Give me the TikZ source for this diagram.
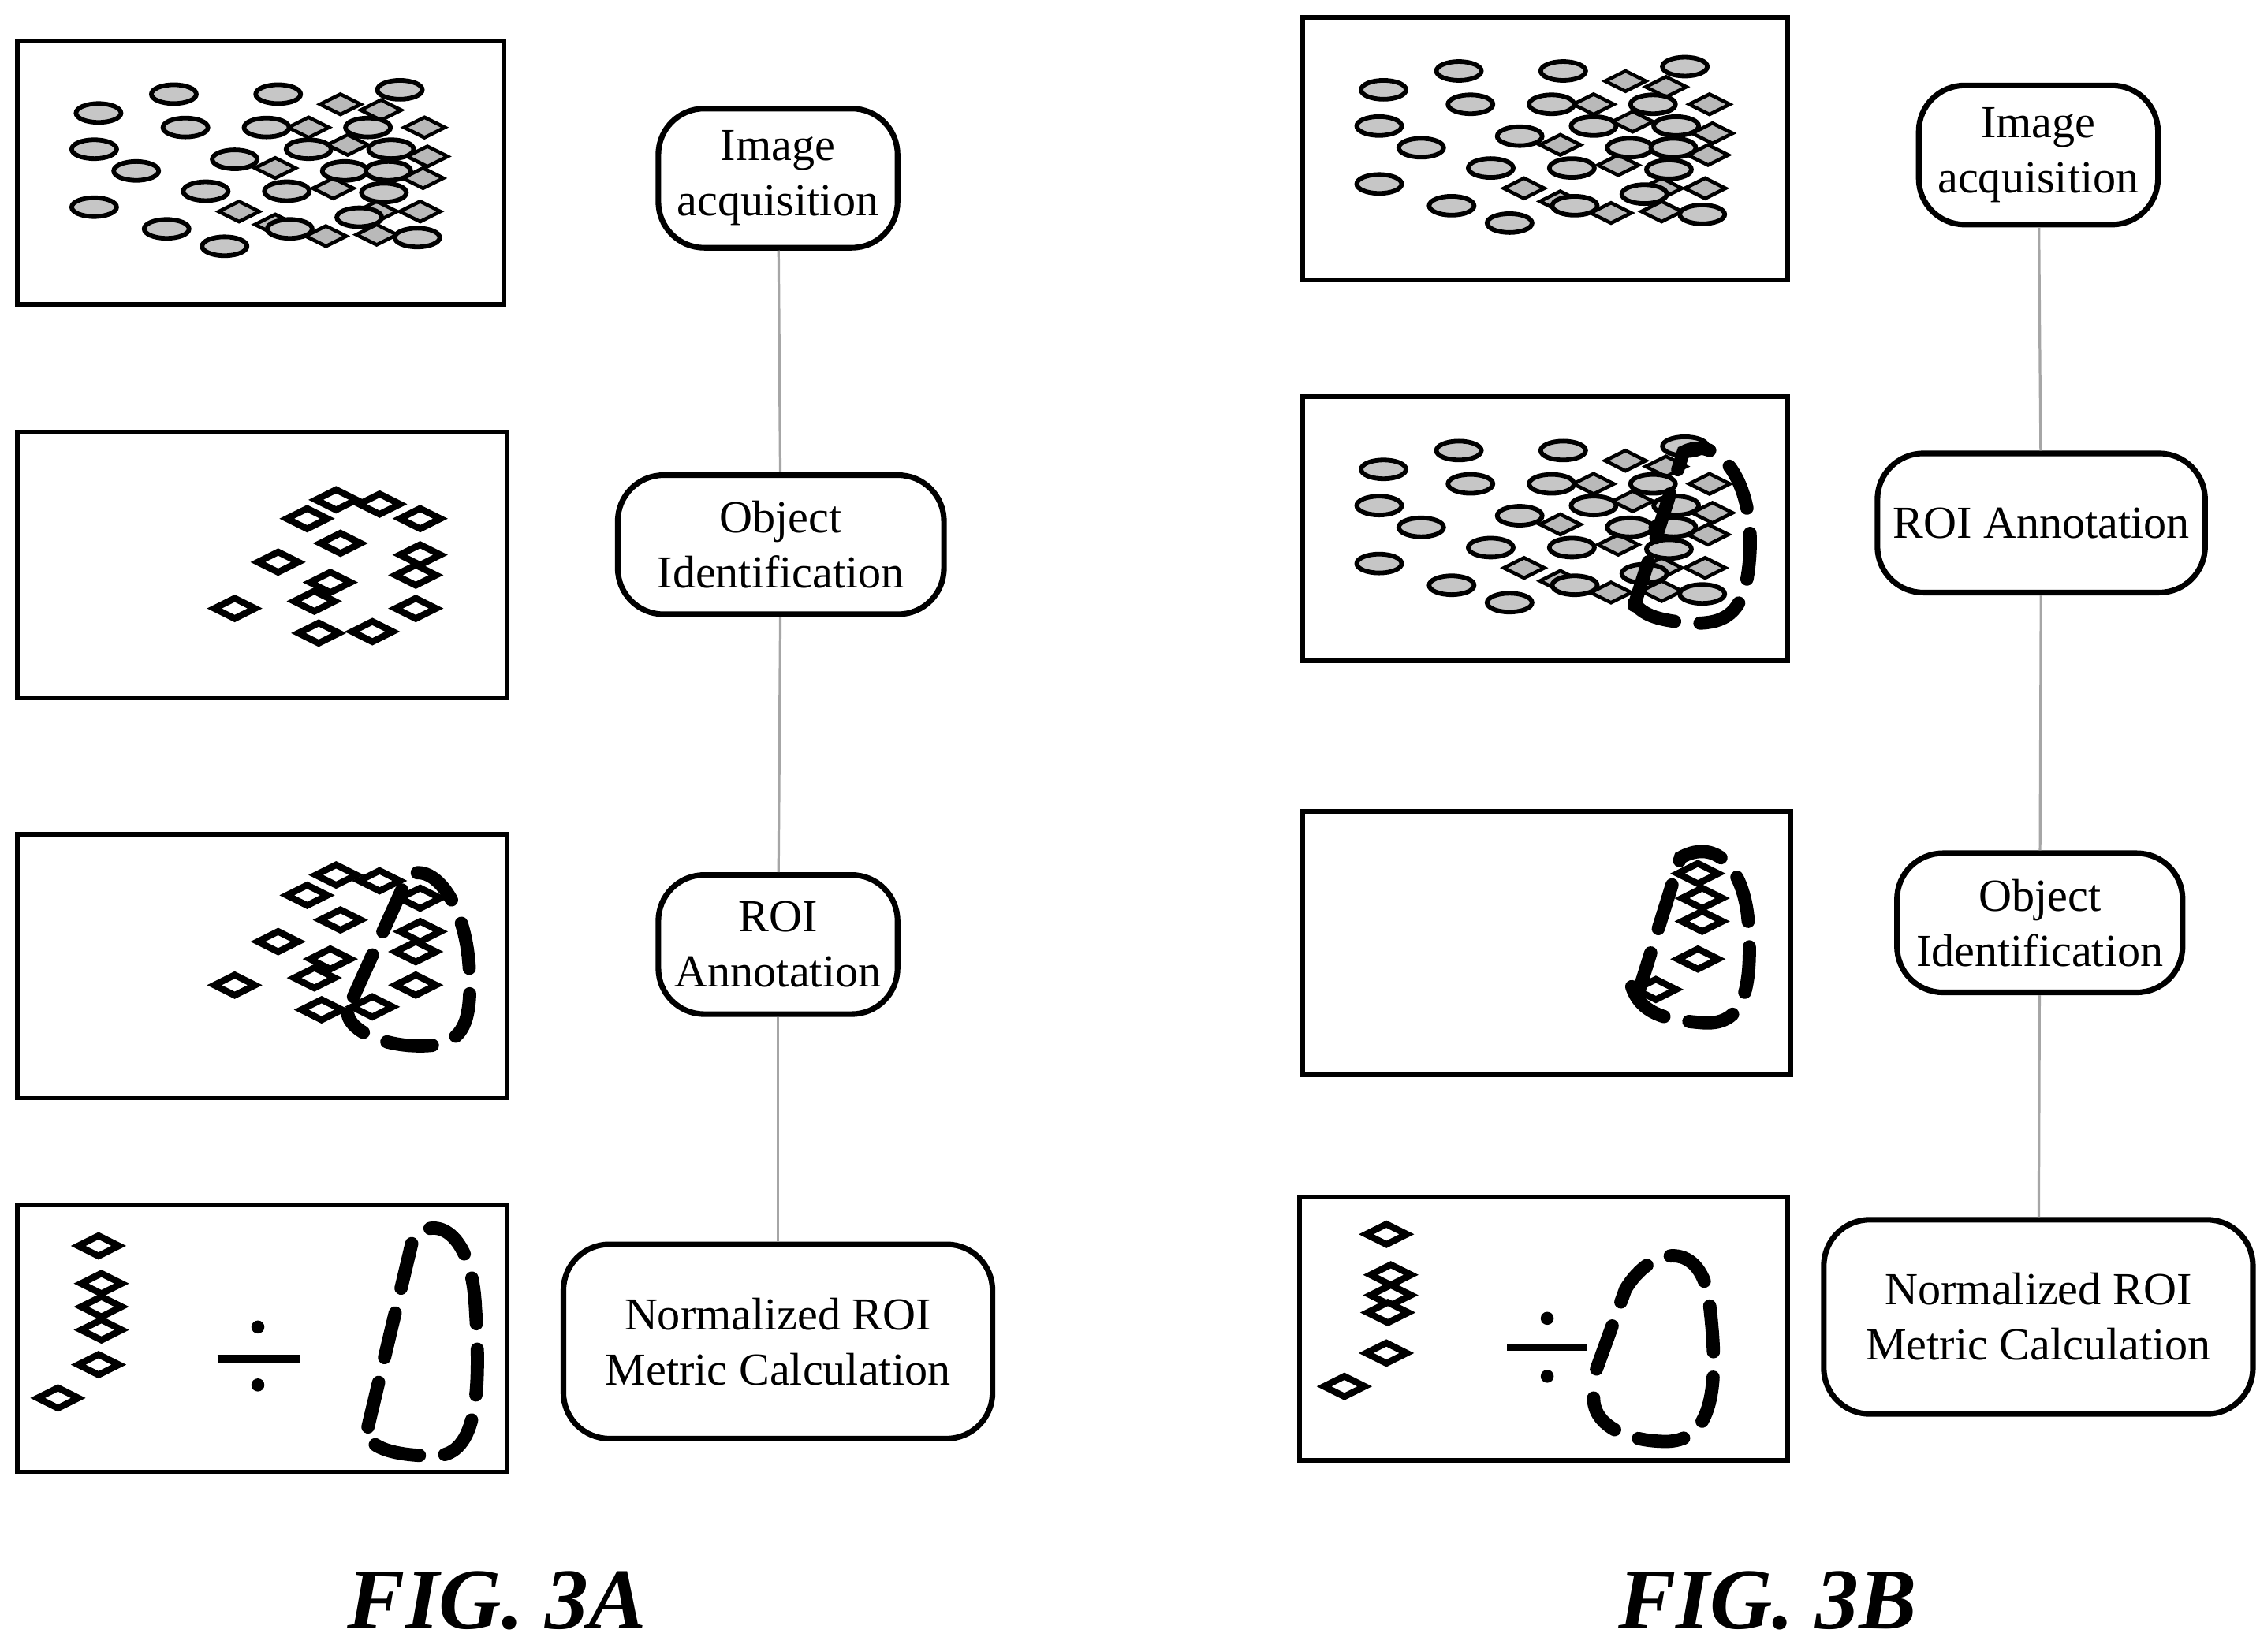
\documentclass[tikz,border=0pt]{standalone}
\usepackage{fontspec}
\setmainfont{Liberation Serif}
\begin{document}
\begin{tikzpicture}[x=0.01cm,y=-0.01cm,
 panel/.style={draw,line width=0.9pt},
 ell/.style={draw,fill=gray!45,line width=0.9pt},
 dia/.style={draw,fill=gray!55,line width=0.7pt},
 odia/.style={draw,fill=white,line width=1.3pt},
 loop/.style={draw,line width=2.6pt,dash pattern=on 9pt off 5pt,line cap=round},
 stepbox/.style={draw,rounded corners=9pt,line width=1.1pt,align=center,font=\fontsize{9}{10.8}\selectfont,inner sep=2pt},
 conn/.style={draw,gray!70,line width=0.5pt},
 figl/.style={font=\fontsize{17}{19}\bfseries\itshape\selectfont}]
\useasboundingbox (0,0) rectangle (1560,1140);
\newcommand\E[2]{\draw[ell] (#1,#2) ellipse (0.155cm and 0.065cm);}
\newcommand\D[3][dia]{\draw[#1,shift={(#2,#3)}] (-14,0)--(0,-7)--(14,0)--(0,7)--cycle;}
\newcommand\cluster{%
 \D{235}{72}\D{263}{76}\D{213}{88}\D{293}{88}\D{240}{100}\D{190}{116}\D{295}{108}\D{230}{130}\D{292}{123}\D{165}{146}\D{260}{146}\D{290}{146}\D{225}{163}\D{260}{162}\D{190}{155}
 \E{120}{65}\E{192}{65}\E{276}{62}\E{68}{78}\E{128}{88}\E{184}{88}\E{254}{88}\E{65}{103}\E{94}{118}\E{162}{110}\E{213}{103}\E{270}{103}\E{238}{118}\E{268}{118}\E{65}{143}\E{142}{132}\E{198}{132}\E{265}{133}\E{115}{158}\E{155}{170}\E{200}{158}\E{248}{150}\E{288}{164}}
% Fig 3A panels
\draw[panel] (12,28) rectangle (348,210);
\cluster
\draw[panel] (12,298) rectangle (350,482);
\foreach \p in {(232,345),(262,348),(290,358),(212,358),(235,375),(290,383),(192,388),(287,397),(228,402),(217,415),(162,420),(287,420),(220,437),(257,436)}{\draw[odia,shift={\p}] (-14,0)--(0,-7)--(14,0)--(0,7)--cycle;}
\draw[panel] (12,576) rectangle (350,758);
\foreach \p in {(232,604),(262,608),(212,618),(290,620),(235,635),(290,643),(192,650),(287,657),(228,662),(217,675),(162,680),(287,680),(222,697),(257,695)}{\draw[odia,shift={\p}] (-14,0)--(0,-7)--(14,0)--(0,7)--cycle;}
\draw[loop] (244,688) -- (282,604) .. controls (300,595) and (322,625) .. (324,670) .. controls (326,710) and (318,722) .. (290,722) .. controls (265,722) and (242,712) .. (240,700);
\draw[panel] (12,832) rectangle (350,1016);
\foreach \p in {(68,860),(70,886),(70,902),(70,918),(68,942),(40,965)}{\draw[odia,shift={\p}] (-14,0)--(0,-7)--(14,0)--(0,7)--cycle;}
\draw[line width=1.5pt] (150,938)--(207,938); \fill (178,916) circle (0.045cm); \fill (178,956) circle (0.045cm);
\draw[loop] (254,985) -- (285,855) .. controls (300,838) and (325,850) .. (328,900) .. controls (332,960) and (330,1005) .. (300,1005) .. controls (275,1005) and (255,1000) .. (254,990);
% 3A steps
\node[stepbox,minimum width=1.65cm,minimum height=0.96cm] (a1) at (537,123) {Image\\acquisition};
\node[stepbox,minimum width=2.25cm,minimum height=0.96cm] (a2) at (539,376) {Object\\Identification};
\node[stepbox,minimum width=1.65cm,minimum height=0.96cm] (a3) at (537,652) {ROI\\Annotation};
\node[stepbox,minimum width=2.96cm,minimum height=1.34cm] (a4) at (537,926) {Normalized ROI\\Metric Calculation};
\draw[conn] (a1) -- (a2); \draw[conn] (a2) -- (a3); \draw[conn] (a3) -- (a4);
\node[figl] (fa) at (343,1105) {FIG. 3A};
% Fig 3B panels
\draw[panel] (899,12) rectangle (1234,193);
\begin{scope}[shift={(887,-16)}]\cluster\end{scope}
\draw[panel] (899,274) rectangle (1234,456);
\begin{scope}[shift={(887,246)}]\cluster\end{scope}
\draw[loop] (1128,418) -- (1162,312) .. controls (1185,300) and (1210,330) .. (1208,380) .. controls (1206,420) and (1195,432) .. (1165,430) .. controls (1145,428) and (1130,425) .. (1125,410);
\draw[panel] (899,560) rectangle (1236,742);
\foreach \p in {(1172,603),(1175,620),(1175,636),(1172,662),(1143,683)}{\draw[odia,shift={\p}] (-14,0)--(0,-7)--(14,0)--(0,7)--cycle;}
\draw[loop] (1130,688) -- (1160,592) .. controls (1185,578) and (1205,600) .. (1207,640) .. controls (1210,690) and (1200,708) .. (1175,706) .. controls (1150,704) and (1132,700) .. (1126,680);
\draw[panel] (897,826) rectangle (1234,1008);
\foreach \p in {(957,852),(960,880),(960,894),(958,906),(957,934),(928,957)}{\draw[odia,shift={\p}] (-14,0)--(0,-7)--(14,0)--(0,7)--cycle;}
\draw[line width=1.5pt] (1040,930)--(1095,930); \fill (1068,910) circle (0.045cm); \fill (1068,950) circle (0.045cm);
\draw[loop] (1102,945) -- (1122,890) .. controls (1140,860) and (1175,855) .. (1180,900) .. controls (1186,950) and (1185,995) .. (1150,995) .. controls (1125,995) and (1100,985) .. (1100,965);
% 3B steps
\node[stepbox,minimum width=1.65cm,minimum height=0.96cm] (b1) at (1407,107) {Image\\acquisition};
\node[stepbox,minimum width=2.26cm,minimum height=0.96cm] (b2) at (1409,361) {ROI Annotation};
\node[stepbox,minimum width=1.97cm,minimum height=0.96cm] (b3) at (1408,637) {Object\\Identification};
\node[stepbox,minimum width=2.96cm,minimum height=1.34cm] (b4) at (1407,909) {Normalized ROI\\Metric Calculation};
\draw[conn] (b1) -- (b2); \draw[conn] (b2) -- (b3); \draw[conn] (b3) -- (b4);
\node[figl] (fb) at (1220,1105) {FIG. 3B};
\end{tikzpicture}
\end{document}
